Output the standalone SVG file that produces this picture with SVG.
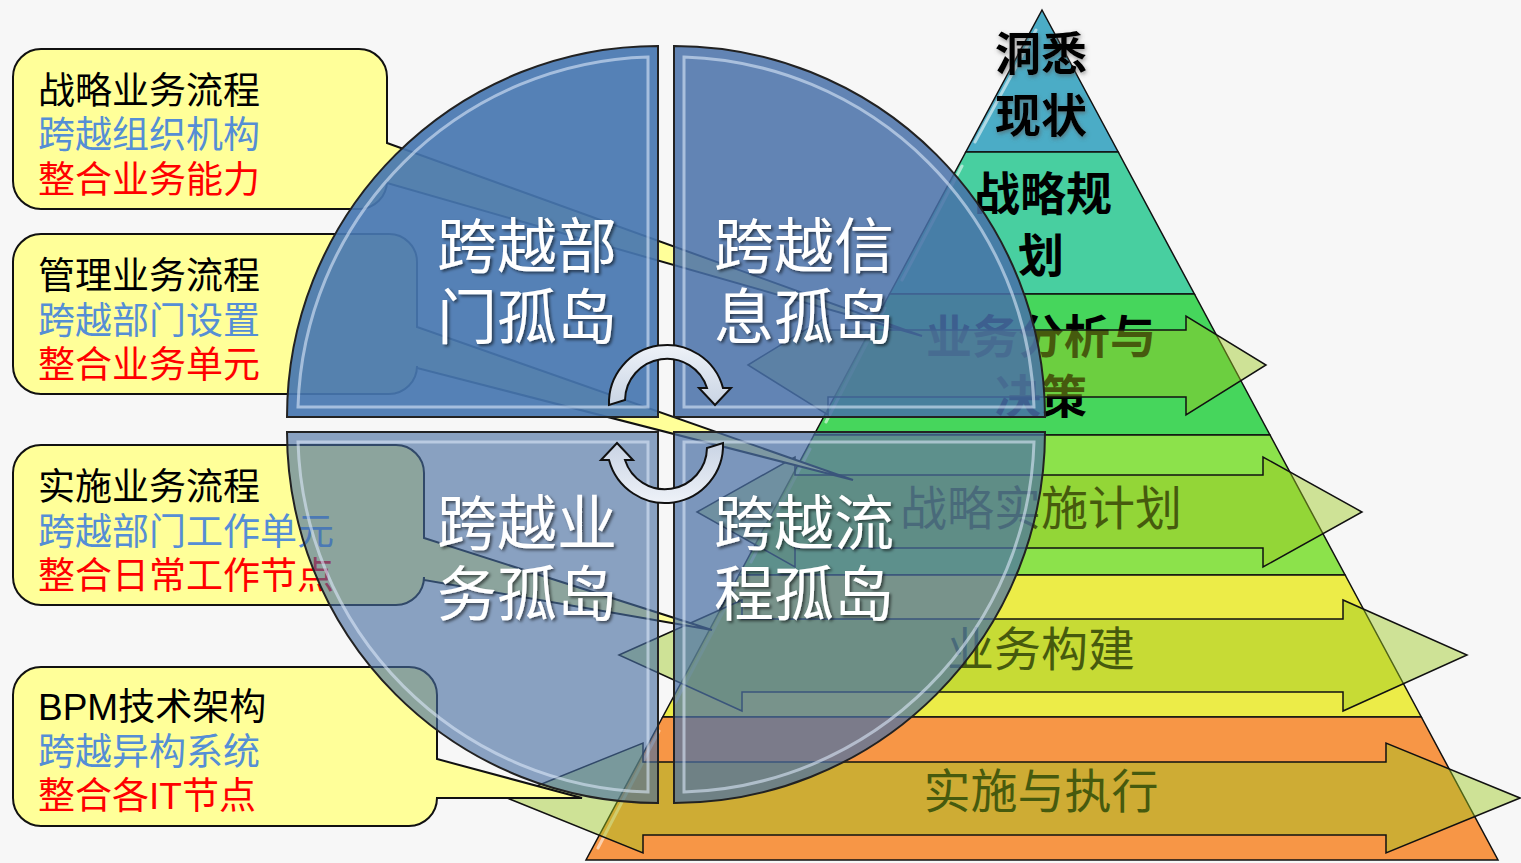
<svg xmlns="http://www.w3.org/2000/svg" width="1521" height="863" viewBox="0 0 1521 863">
<defs>
<style>
.band{stroke:#111;stroke-width:1.5}
.hl{fill:none;stroke:#fff;stroke-width:3;stroke-opacity:0.55;stroke-linecap:round}
.ptxt{font-family:"Noto Sans CJK SC",sans-serif;font-size:46px;font-weight:700;fill:#000;text-anchor:middle}
.plow{font-size:47px;font-weight:400}
.arrow{fill:rgb(155,200,30);fill-opacity:0.45;stroke:#111;stroke-width:1.5;stroke-linejoin:miter}
.callout{fill:#ffff99;stroke:#111;stroke-width:2}
.ct{font-family:"Noto Sans CJK SC",sans-serif;font-size:37px}
.c1{fill:#000}.c2{fill:#558ed5}.c3{fill:#ff0000}
.quad{stroke:#222;stroke-width:2}
.qhl{fill:none;stroke:#dbe8f8;stroke-width:3;stroke-opacity:0.6}
.qt{font-family:"Noto Sans CJK SC",sans-serif;font-size:60px;fill:#fff;text-anchor:middle}
.cyc{fill:url(#cycg);stroke:#111;stroke-width:2;stroke-linejoin:miter}
</style>
<linearGradient id="cycg" x1="0" y1="0" x2="0" y2="1">
<stop offset="0" stop-color="#eef2f8"/><stop offset="1" stop-color="#c9d4e4"/>
</linearGradient>
<filter id="qshadow" x="-10%" y="-10%" width="130%" height="130%">
<feDropShadow dx="2" dy="2" stdDeviation="1.5" flood-color="#000" flood-opacity="0.55"/>
</filter>
<filter id="pglow" x="-10%" y="-10%" width="130%" height="130%">
<feDropShadow dx="1" dy="2" stdDeviation="2" flood-color="#555" flood-opacity="0.6"/>
</filter>
</defs>
<rect width="1521" height="863" fill="#f7f7f7"/>

<g id="pyramid">
<path class="band" fill="#4bacc6" d="M1042 10 L1118.2 152 L965.8 152 Z"/>
<path class="band" fill="#48cfa0" d="M965.8 152 L1118.2 152 L1194.4 294 L889.6 294 Z"/>
<path class="band" fill="#46d65c" d="M889.6 294 L1194.4 294 L1270 435 L814 435 Z"/>
<path class="band" fill="#8ce24b" d="M814 435 L1270 435 L1345.1 575 L738.9 575 Z"/>
<path class="band" fill="#ecec48" d="M738.9 575 L1345.1 575 L1421.3 717 L662.7 717 Z"/>
<path class="band" fill="#f79646" d="M662.7 717 L1421.3 717 L1498 860 L586 860 Z"/>
<path class="hl" d="M1036 30 L975 142 M962 166 L902 280 M885 308 L826 422 M810 449 L751 562 M735 589 L675 703 M659 731 L598 848"/>
</g>

<g id="pyramid-labels">
<text class="ptxt" x="1041" y="70" filter="url(#pglow)">洞悉</text>
<text class="ptxt" x="1041" y="132" filter="url(#pglow)">现状</text>
<text class="ptxt" x="1043" y="210">战略规</text>
<text class="ptxt" x="1041" y="272">划</text>
<text class="ptxt" x="1041" y="353">业务分析与</text>
<text class="ptxt" x="1041" y="413">决策</text>
<text class="ptxt plow" x="1041" y="525">战略实施计划</text>
<text class="ptxt plow" x="1041" y="666">业务构建</text>
<text class="ptxt plow" x="1041" y="808">实施与执行</text>
</g>

<g id="arrows">
<path class="arrow" d="M748 365 L828 316 L828 330 L1186 330 L1186 316 L1266 365 L1186 415 L1186 397 L828 397 L828 415 Z"/>
<path class="arrow" d="M697 512 L795 457 L795 475 L1263 475 L1263 457 L1362 512 L1263 567 L1263 548 L795 548 L795 567 Z"/>
<path class="arrow" d="M619 655 L742 600 L742 619 L1343 619 L1343 600 L1467 655 L1343 711 L1343 692 L742 692 L742 711 Z"/>
<path class="arrow" d="M507 798 L643 743 L643 762 L1386 762 L1386 743 L1520 798 L1386 853 L1386 835 L643 835 L643 853 Z"/>
</g>

<g id="callout-strategy">
<path class="callout" d="M41 49 H359 A28 28 0 0 1 387 77 V143 L922 336 L387 183 V181 A28 28 0 0 1 359 209 H41 A28 28 0 0 1 13 181 V77 A28 28 0 0 1 41 49 Z"/>
<text class="ct c1" x="38" y="104">战略业务流程</text>
<text class="ct c2" x="38" y="148">跨越组织机构</text>
<text class="ct c3" x="38" y="193">整合业务能力</text>
</g>
<g id="callout-management">
<path class="callout" d="M41 234 H389 A28 28 0 0 1 417 262 V327 L853 480 L417 368 V366 A28 28 0 0 1 389 394 H41 A28 28 0 0 1 13 366 V262 A28 28 0 0 1 41 234 Z"/>
<text class="ct c1" x="38" y="289">管理业务流程</text>
<text class="ct c2" x="38" y="334">跨越部门设置</text>
<text class="ct c3" x="38" y="378">整合业务单元</text>
</g>
<g id="callout-implementation">
<path class="callout" d="M41 445 H396 A28 28 0 0 1 424 473 V538 L712 630 L424 580 V577 A28 28 0 0 1 396 605 H41 A28 28 0 0 1 13 577 V473 A28 28 0 0 1 41 445 Z"/>
<text class="ct c1" x="38" y="500">实施业务流程</text>
<text class="ct c2" x="38" y="545">跨越部门工作单元</text>
<text class="ct c3" x="38" y="589">整合日常工作节点</text>
</g>
<g id="callout-bpm">
<path class="callout" d="M41 667 H409 A28 28 0 0 1 437 695 V759 L582 798 L437 798 A28 28 0 0 1 409 826 H41 A28 28 0 0 1 13 798 V695 A28 28 0 0 1 41 667 Z"/>
<text class="ct c1" x="38" y="720"><tspan font-family="Liberation Sans, sans-serif">BPM</tspan>技术架构</text>
<text class="ct c2" x="38" y="765">跨越异构系统</text>
<text class="ct c3" x="38" y="809">整合各<tspan font-family="Liberation Sans, sans-serif">IT</tspan>节点</text>
</g>

<g id="quad-department">
<path class="quad" fill="rgb(70,118,176)" fill-opacity="0.92" d="M658 417 H287 A371 371 0 0 1 658 46 Z"/>
<path class="qhl" d="M648 407 H298 A361 361 0 0 1 648 57 Z"/>
</g>
<g id="quad-information">
<path class="quad" fill="rgb(72,112,168)" fill-opacity="0.85" d="M674 417 V46 A371 371 0 0 1 1045 417 Z"/>
<path class="qhl" d="M684 407 V57 A361 361 0 0 1 1034 407 Z"/>
</g>
<g id="quad-business">
<path class="quad" fill="rgb(70,108,160)" fill-opacity="0.62" d="M658 432 H287 A371 371 0 0 0 658 803 Z"/>
<path class="qhl" d="M648 442 H298 A361 361 0 0 0 648 792 Z"/>
</g>
<g id="quad-process">
<path class="quad" fill="rgb(75,112,165)" fill-opacity="0.72" d="M674 432 H1045 A371 371 0 0 1 674 803 Z"/>
<path class="qhl" d="M684 442 H1034 A361 361 0 0 1 684 792 Z"/>
</g>

<g id="cycle-arrows">
<path class="cyc" d="M609 405 A58 58 0 0 1 723 388 L731 388 L715 405 L699 388 L707 388 A42 42 0 0 0 625 400 Z"/>
<path class="cyc" transform="rotate(180 666 424)" d="M609 405 A58 58 0 0 1 723 388 L731 388 L715 405 L699 388 L707 388 A42 42 0 0 0 625 400 Z"/>
</g>

<g id="quad-labels" filter="url(#qshadow)">
<text class="qt" x="527" y="268">跨越部</text>
<text class="qt" x="527" y="339">门孤岛</text>
<text class="qt" x="804" y="268">跨越信</text>
<text class="qt" x="804" y="339">息孤岛</text>
<text class="qt" x="527" y="545">跨越业</text>
<text class="qt" x="527" y="616">务孤岛</text>
<text class="qt" x="804" y="545">跨越流</text>
<text class="qt" x="804" y="616">程孤岛</text>
</g>
</svg>
